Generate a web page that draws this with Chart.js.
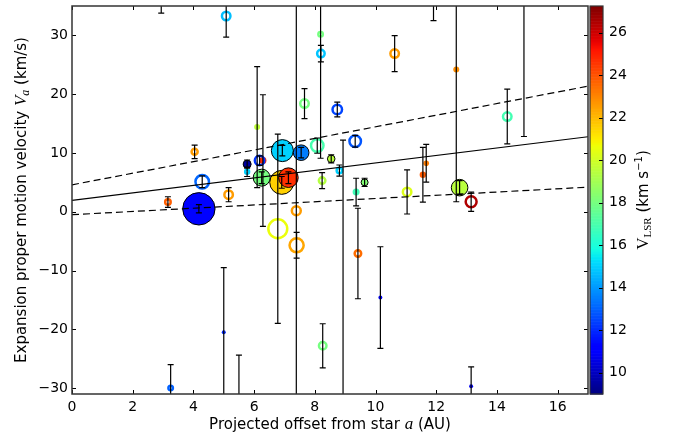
<!DOCTYPE html>
<html>
<head>
<meta charset="utf-8">
<script src="https://cdn.jsdelivr.net/npm/chart.js@4.4.0/dist/chart.umd.min.js"></script>
<style>
  html, body { margin: 0; padding: 0; background: #fff; }
  canvas { display: block; }
</style>
</head>
<body>
<canvas id="pm" width="675" height="439"></canvas>
<script>
// maser features: projected offset (AU), expansion velocity (km/s) and its error
const offsetAU = [2.94, 11.91, 8.93, 14.89, 5.50, 5.08, 8.19, 8.20, 10.63, 12.66,
  7.66, 8.74, 14.34, 6.10, 9.33, 8.08, 6.93, 7.55, 4.04, 8.54,
  6.29, 6.18, 5.77, 11.67, 11.56, 8.81, 5.77, 6.91, 6.25, 7.13,
  4.29, 8.24, 9.64, 12.77, 9.36, 11.04, 5.16, 13.15, 3.16, 4.18,
  7.39, 6.78, 7.40, 9.42, 10.16, 5.00, 8.26, 13.15, 3.25];
const velocity = [38.0, 38.0, -32.0, 40.0, -36.0, 33.3, 30.2, 26.9, 26.9, 24.2,
  18.4, 17.4, 16.2, 14.4, 12.0, 11.25, 10.4, 10.05, 10.2, 9.0,
  8.7, 8.7, 8.1, 8.25, 6.3, 7.0, 6.8, 5.0, 5.8, 5.8,
  5.1, 5.3, 5.0, 4.1, 3.35, 3.37, 2.9, 1.7, 1.65, 0.5,
  0.17, -2.9, -5.7, -7.1, -14.6, -20.5, -22.8, -29.7, -30.0];
const velErr = [4.2, 5.5, 44.2, 27.2, 11.6, 3.6, 21.1, 1.4, 3.05, 22.5,
  2.55, 1.25, 4.65, 10.3, 1.0, 1.3, 0.9, 0.9, 1.15, 0.7,
  11.2, 0.8, 0.7, 3.22, 4.66, 0.95, 0.8, 1.0, 1.0, 1.0,
  1.0, 1.35, 0.7, 1.2, 2.35, 3.75, 1.2, 1.65, 0.9, 0.7,
  60.0, 16.1, 2.2, 7.7, 8.65, 11.0, 3.75, 3.3, 4.0];
// LSR velocity (km/s), drives the colour
const vlsr = [12.0, 12.0, 12.0, 12.0, 12.0, 14.7, 18.0, 14.8, 22.6, 22.9,
  18.0, 12.5, 16.9, 19.6, 12.8, 17.0, 15.0, 13.5, 22.6, 19.5,
  24.8, 12.2, 9.5, 23.2, 23.9, 15.0, 15.0, 21.6, 18.0, 24.7,
  13.1, 19.4, 18.3, 19.5, 16.8, 20.3, 22.6, 26.5, 23.8, 11.3,
  22.6, 20.6, 22.4, 23.5, 11.0, 12.0, 18.0, 10.8, 13.0];
// peak flux, drives the marker size
const flux = [0.44, 0.44, 0.44, 0.44, 0.44, 3.36, 1.36, 2.78, 3.36, 1.00,
  3.36, 4.00, 3.36, 1.00, 5.44, 6.25, 14.69, 7.65, 2.05, 2.05,
  1.36, 4.00, 2.25, 0.87, 1.14, 1.78, 1.14, 17.36, 9.00, 11.79,
  7.11, 2.25, 1.78, 8.60, 1.36, 3.36, 3.36, 4.99, 1.78, 30.99,
  3.61, 12.72, 7.65, 2.25, 0.44, 0.44, 2.78, 0.44, 1.36];
// o = single-epoch feature (ring), f = matched feature, d = weak spot
const kind = ['d', 'd', 'd', 'd', 'd', 'o', 'o', 'o', 'o', 'd',
  'o', 'o', 'o', 'd', 'o', 'o', 'f', 'f', 'o', 'f',
  'd', 'o', 'f', 'd', 'd', 'o', 'o', 'f', 'f', 'f',
  'o', 'o', 'f', 'f', 'd', 'o', 'o', 'o', 'o', 'f',
  'o', 'o', 'o', 'o', 'd', 'd', 'o', 'd', 'o'];

// linear fit and its envelope
const fitX = [0, 17];
const fitMid = [1.92, 12.76];
const fitUpper = [4.58, 21.36];
const fitLower = [-0.5, 4.18];

const xTickStep = 2;
const yTickStep = 10;
const cbarTickStep = 2;
const vMin = 9.0, vMax = 27.26;

const SANS = '"DejaVu Sans", sans-serif';
const SERIF = '"Liberation Serif", "DejaVu Serif", serif';

// matplotlib jet
const JET = {
  r: [[0, 0], [0.35, 0], [0.66, 1], [0.89, 1], [1, 0.5]],
  g: [[0, 0], [0.125, 0], [0.375, 1], [0.64, 1], [0.91, 0], [1, 0]],
  b: [[0, 0.5], [0.11, 1], [0.34, 1], [0.65, 0], [1, 0]]
};
function chan(seg, t) {
  for (let i = 1; i < seg.length; i++) {
    if (t <= seg[i][0]) {
      const [x0, y0] = seg[i - 1], [x1, y1] = seg[i];
      return y0 + (y1 - y0) * (t - x0) / (x1 - x0);
    }
  }
  return seg[seg.length - 1][1];
}
function jet(v) {
  const t = Math.min(1, Math.max(0, (v - vMin) / (vMax - vMin)));
  const c = k => Math.round(255 * chan(JET[k], t));
  return `rgb(${c('r')},${c('g')},${c('b')})`;
}

const colors = vlsr.map(jet);
const outerR = flux.map(f => 3 * Math.sqrt(f));
const borderW = kind.map(k => (k === 'o' ? 2.5 : k === 'f' ? 1 : 0));
const radius = outerR.map((r, i) => r - borderW[i] / 2);
const fill = kind.map((k, i) => (k === 'o' ? 'rgba(0,0,0,0)' : colors[i]));
const edge = kind.map((k, i) => (k === 'f' ? '#000' : colors[i]));

const minus = v => (v < 0 ? '\u2212' + Math.abs(v) : String(v));

// axes keep a fixed box; no extra room for overhanging tick labels
function fixBox(size, horizontal) {
  return s => {
    if (horizontal) s.height = size; else s.width = size;
    s.paddingTop = 0; s.paddingBottom = 0; s.paddingLeft = 0; s.paddingRight = 0;
  };
}

function drawRuns(ctx, runs, x, y, rot) {
  ctx.save();
  ctx.translate(x, y);
  ctx.rotate(rot);
  ctx.textAlign = 'left';
  ctx.textBaseline = 'alphabetic';
  ctx.fillStyle = '#000';
  let total = 0;
  runs.forEach(r => { ctx.font = r.font; r.w = ctx.measureText(r.text).width; total += r.w; });
  let cx = -total / 2;
  runs.forEach(r => { ctx.font = r.font; ctx.fillText(r.text, cx, r.dy || 0); cx += r.w; });
  ctx.restore();
}

const decorations = {
  id: 'decorations',
  afterDatasetsDraw(chart) {
    const { ctx, chartArea: a, scales: { x, y } } = chart;
    ctx.save();
    ctx.beginPath();
    ctx.rect(a.left, a.top, a.right - a.left, a.bottom - a.top);
    ctx.clip();
    ctx.strokeStyle = '#000';
    ctx.lineWidth = 1.2;
    offsetAU.forEach((ox, i) => {
      const px = x.getPixelForValue(ox);
      const hi = y.getPixelForValue(velocity[i] + velErr[i]);
      const lo = y.getPixelForValue(velocity[i] - velErr[i]);
      ctx.beginPath();
      ctx.moveTo(px, hi); ctx.lineTo(px, lo);
      ctx.moveTo(px - 3, hi); ctx.lineTo(px + 3, hi);
      ctx.moveTo(px - 3, lo); ctx.lineTo(px + 3, lo);
      ctx.stroke();
    });
    ctx.restore();
  },
  afterDraw(chart) {
    const { ctx, chartArea: a, scales: { x, y, cbar } } = chart;
    ctx.save();
    // inward ticks on all four sides
    ctx.strokeStyle = '#000';
    ctx.lineWidth = 1;
    ctx.beginPath();
    x.ticks.forEach(t => {
      const px = Math.round(x.getPixelForValue(t.value)) + 0.5;
      ctx.moveTo(px, a.bottom); ctx.lineTo(px, a.bottom - 4);
      ctx.moveTo(px, a.top); ctx.lineTo(px, a.top + 4);
    });
    y.ticks.forEach(t => {
      const py = Math.round(y.getPixelForValue(t.value)) + 0.5;
      ctx.moveTo(a.left, py); ctx.lineTo(a.left + 4, py);
      ctx.moveTo(a.right, py); ctx.lineTo(a.right - 4, py);
    });
    ctx.stroke();
    ctx.strokeStyle = '#333';
    ctx.lineWidth = 1.5;
    ctx.strokeRect(a.left, a.top, a.right - a.left, a.bottom - a.top);

    // colour bar
    const bx = a.right + 2, bw = 13;
    const top = cbar.getPixelForValue(vMax), bot = cbar.getPixelForValue(vMin);
    const n = 256;
    for (let k = 0; k < n; k++) {
      const v0 = vMin + (vMax - vMin) * k / n;
      const v1 = vMin + (vMax - vMin) * (k + 1) / n;
      const p0 = cbar.getPixelForValue(v0), p1 = cbar.getPixelForValue(v1);
      ctx.fillStyle = jet((v0 + v1) / 2);
      ctx.fillRect(bx, p1, bw, p0 - p1 + 0.6);
    }
    ctx.strokeStyle = '#000';
    ctx.lineWidth = 1;
    ctx.beginPath();
    cbar.ticks.forEach(t => {
      const py = Math.round(cbar.getPixelForValue(t.value)) + 0.5;
      ctx.moveTo(bx + bw, py); ctx.lineTo(bx + bw - 4, py);
    });
    ctx.stroke();
    ctx.strokeStyle = '#333';
    ctx.lineWidth = 1.2;
    ctx.strokeRect(bx, top, bw, bot - top);
    ctx.restore();

    const cy = (a.top + a.bottom) / 2;
    drawRuns(ctx, [
      { text: 'Expansion proper motion velocity ', font: `15px ${SANS}` },
      { text: 'V', font: `italic 17px ${SERIF}` },
      { text: 'a', font: `italic 12px ${SERIF}`, dy: 3 },
      { text: ' (km/s)', font: `15px ${SANS}` }
    ], 26, cy, -Math.PI / 2);
    drawRuns(ctx, [
      { text: 'Projected offset from star ', font: `15px ${SANS}` },
      { text: 'a', font: `italic 17px ${SERIF}` },
      { text: ' (AU)', font: `15px ${SANS}` }
    ], (a.left + a.right) / 2, 429, 0);
    drawRuns(ctx, [
      { text: 'V', font: `17px ${SERIF}` },
      { text: 'LSR', font: `11px ${SERIF}`, dy: 3 },
      { text: ' (km s', font: `15px ${SANS}` },
      { text: '\u22121', font: `10px ${SANS}`, dy: -6 },
      { text: ')', font: `15px ${SANS}` }
    ], 648, cy, -Math.PI / 2);
  }
};

const tickFont = { family: SANS, size: 14 };

new Chart(document.getElementById('pm'), {
  type: 'scatter',
  data: {
    datasets: [
      {
        type: 'line',
        data: fitX.map((v, i) => ({ x: v, y: fitMid[i] })),
        borderColor: '#000', borderWidth: 1.2, pointRadius: 0, order: 0
      },
      {
        type: 'line',
        data: fitX.map((v, i) => ({ x: v, y: fitUpper[i] })),
        borderColor: '#000', borderWidth: 1.2, borderDash: [7, 4], pointRadius: 0, order: 0
      },
      {
        type: 'line',
        data: fitX.map((v, i) => ({ x: v, y: fitLower[i] })),
        borderColor: '#000', borderWidth: 1.2, borderDash: [7, 4], pointRadius: 0, order: 0
      },
      {
        type: 'scatter',
        data: offsetAU.map((v, i) => ({ x: v, y: velocity[i] })),
        pointRadius: radius,
        pointBackgroundColor: fill,
        pointBorderColor: edge,
        pointBorderWidth: borderW,
        order: 1
      }
    ]
  },
  options: {
    responsive: false,
    animation: false,
    devicePixelRatio: 1,
    events: [],
    layout: { autoPadding: false, padding: { top: 6, left: 0, right: 0, bottom: 0 } },
    plugins: { legend: { display: false }, tooltip: { enabled: false } },
    scales: {
      x: {
        type: 'linear', position: 'bottom', min: 0, max: 17,
        grid: { display: false, drawTicks: false }, border: { display: false },
        ticks: { stepSize: xTickStep, includeBounds: false, padding: 5, color: '#000', font: tickFont, maxRotation: 0 },
        afterFit: fixBox(45, true)
      },
      y: {
        type: 'linear', position: 'left', min: -31, max: 35,
        grid: { display: false, drawTicks: false }, border: { display: false },
        ticks: { stepSize: yTickStep, includeBounds: false, padding: 4, color: '#000', font: tickFont, callback: minus },
        afterFit: fixBox(72, false)
      },
      cbar: {
        type: 'linear', position: 'right', min: vMin, max: vMax,
        grid: { display: false, drawTicks: false }, border: { display: false },
        ticks: { stepSize: cbarTickStep, includeBounds: false, padding: 21, color: '#000', font: tickFont },
        afterFit: fixBox(87, false)
      }
    }
  },
  plugins: [decorations]
});
</script>
</body>
</html>
